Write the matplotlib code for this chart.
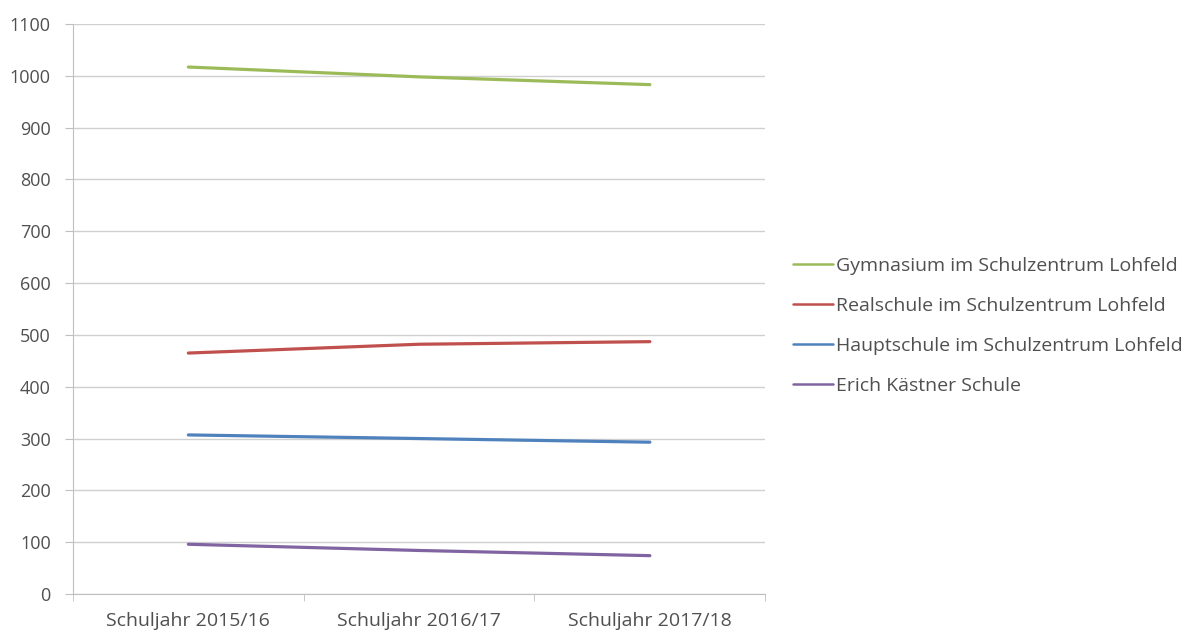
import matplotlib.pyplot as plt
from matplotlib.ticker import FixedLocator

# Schülerzahlen je Schule und Schuljahr
schuljahre = ['Schuljahr 2015/16', 'Schuljahr 2016/17', 'Schuljahr 2017/18']
gymnasium = [1017, 998, 983]
realschule = [465, 482, 487]
hauptschule = [307, 300, 293]
kaestner = [96, 84, 74]

namen = ['Gymnasium im Schulzentrum Lohfeld',
         'Realschule im Schulzentrum Lohfeld',
         'Hauptschule im Schulzentrum Lohfeld',
         'Erich Kästner Schule']
farben = ['#9BBB59', '#C0504D', '#4F81BD', '#8064A2']

plt.rcParams['font.family'] = ['Open Sans', 'DejaVu Sans']

fig = plt.figure(figsize=(11.92, 6.37), dpi=100)
ax = fig.add_axes([0.0612, 0.0675, 0.5808, 0.8948])

x = list(range(len(schuljahre)))
for werte, name, farbe in zip([gymnasium, realschule, hauptschule, kaestner], namen, farben):
    ax.plot(x, werte, color=farbe, linewidth=2.3, label=name, solid_capstyle='round')

ax.set_xlim(-0.5, 2.5)
ax.set_ylim(0, 1100)
ax.set_yticks(range(0, 1101, 100))
ax.set_xticks(x)
ax.set_xticklabels(schuljahre)
ax.xaxis.set_minor_locator(FixedLocator([-0.5, 0.5, 1.5, 2.5]))
ax.tick_params(axis='x', which='major', length=0, pad=13, labelsize=14, labelcolor='#505050')
ax.tick_params(axis='x', which='minor', length=5, color='#BFBFBF')
ax.tick_params(axis='y', length=6, color='#BFBFBF', labelsize=13, labelcolor='#505050', pad=10)

ax.grid(axis='y', color='#D0D0D0', linewidth=1)
ax.set_axisbelow(True)
for s in ['top', 'right']:
    ax.spines[s].set_visible(False)
ax.spines['left'].set_color('#BFBFBF')
ax.spines['bottom'].set_color('#BFBFBF')

leg = fig.legend(loc='upper left', bbox_to_anchor=(0.651, 0.624), frameon=False,
                 fontsize=14, labelspacing=1.13, handlelength=2.05, handletextpad=0.15,
                 labelcolor='#505050')
for linie in leg.get_lines():
    linie.set_linewidth(1.8)

fig.savefig('out.png', dpi=100)
